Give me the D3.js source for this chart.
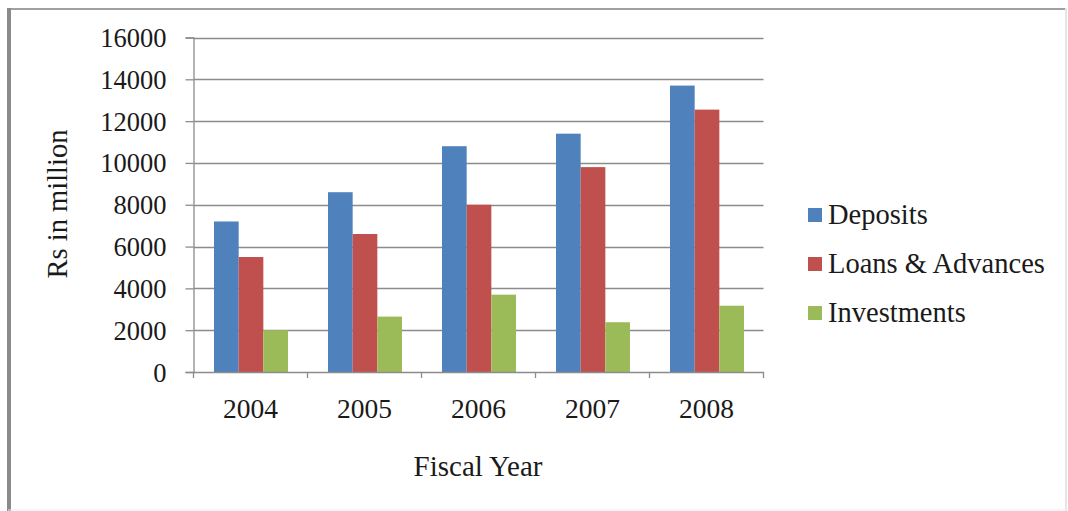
<!DOCTYPE html>
<html>
<head>
<meta charset="utf-8">
<script src="https://cdn.jsdelivr.net/npm/d3@7"></script>
<style>
  html, body { margin: 0; padding: 0; background: #fff; }
  svg { display: block; }
  text { font-family: "Liberation Serif", "Times New Roman", serif; fill: #1a1a1a; }
</style>
</head>
<body>
<svg id="chart" width="1068" height="511"></svg>
<script>
const years = ["2004", "2005", "2006", "2007", "2008"];
const seriesNames = ["Deposits", "Loans & Advances", "Investments"];
const deposits = [7200, 8600, 10800, 11400, 13700];
const loans = [5500, 6600, 8000, 9800, 12550];
const investments = [2000, 2650, 3700, 2380, 3170];
const yTicks = [0, 2000, 4000, 6000, 8000, 10000, 12000, 14000, 16000];
const colors = ["#4F81BD", "#C0504D", "#9BBB59"];

(function () {
const seriesValues = [deposits, loans, investments];
const svg = d3.select("#chart");

// frame
svg.append("rect").attr("x", 0).attr("y", 0).attr("width", 1068).attr("height", 511).attr("fill", "#fff");
svg.append("line").attr("x1", 8).attr("x2", 1066).attr("y1", 9).attr("y2", 9).attr("stroke", "#a0a0a0").attr("stroke-width", 2);
svg.append("line").attr("x1", 9).attr("x2", 9).attr("y1", 8).attr("y2", 511).attr("stroke", "#8a8a8a").attr("stroke-width", 4);
svg.append("line").attr("x1", 1066).attr("x2", 1066).attr("y1", 8).attr("y2", 511).attr("stroke", "#e6e6e6").attr("stroke-width", 2);
svg.append("line").attr("x1", 8).attr("x2", 1066).attr("y1", 510).attr("y2", 510).attr("stroke", "#ececec").attr("stroke-width", 1);

const pLeft = 193.5, pRight = 763.5, pTop = 37.5, pBottom = 372;
const x0 = d3.scaleBand().domain(years).range([pLeft, pRight]).padding(0);
const x1 = d3.scaleBand().domain(seriesNames).range([20.5, x0.bandwidth() - 19.5]).padding(0);
const y = d3.scaleLinear().domain([0, 16000]).range([pBottom, pTop]);

// gridlines
svg.append("g").selectAll("line").data(yTicks.filter(d => d > 0)).join("line")
  .attr("x1", pLeft).attr("x2", pRight)
  .attr("y1", d => Math.round(y(d)) + 0.5).attr("y2", d => Math.round(y(d)) + 0.5)
  .attr("stroke", "#8c8c8c").attr("stroke-width", 1.3);

// bars
const groups = svg.append("g").selectAll("g").data(years).join("g")
  .attr("transform", d => `translate(${x0(d)},0)`);
groups.selectAll("rect").data((d, i) => seriesNames.map((s, j) => ({ s, j, v: seriesValues[j][i] }))).join("rect")
  .attr("x", d => x1(d.s)).attr("width", x1.bandwidth())
  .attr("y", d => y(d.v)).attr("height", d => pBottom - y(d.v))
  .attr("fill", d => colors[d.j]);

// y axis
const yAxis = d3.axisLeft(y).tickValues(yTicks).tickFormat(d3.format("d")).tickSize(8).tickPadding(19);
const ya = svg.append("g").attr("transform", `translate(${pLeft},0)`).call(yAxis);
ya.select(".domain").attr("stroke", "#8c8c8c").attr("stroke-width", 1.3);
ya.selectAll(".tick line").attr("stroke", "#8c8c8c").attr("stroke-width", 1.3);
ya.selectAll("text").style("font-family", "'Liberation Serif', serif").style("font-size", "26.5px").attr("fill", "#1a1a1a").attr("dy", "0.34em");

// x axis
const xAxis = d3.axisBottom(x0).tickSize(0).tickPadding(26);
const xa = svg.append("g").attr("transform", `translate(0,${pBottom})`).call(xAxis);
xa.select(".domain").attr("stroke", "#8c8c8c").attr("stroke-width", 1.3);
xa.selectAll("text").style("font-family", "'Liberation Serif', serif").style("font-size", "27.5px").attr("fill", "#1a1a1a");
// category boundary ticks
const bounds = years.map(d => x0(d)).concat([pRight]);
svg.append("g").selectAll("line").data(bounds).join("line")
  .attr("x1", d => d).attr("x2", d => d).attr("y1", pBottom).attr("y2", pBottom + 6)
  .attr("stroke", "#8c8c8c").attr("stroke-width", 1.3);

// axis titles
svg.append("text").attr("transform", "translate(67,204) rotate(-90)")
  .attr("text-anchor", "middle").style("font-size", "28.5px").text("Rs in million");
svg.append("text").attr("x", 478).attr("y", 476)
  .attr("text-anchor", "middle").style("font-size", "29px").text("Fiscal Year");

// legend
const legend = svg.append("g").selectAll("g").data(seriesNames).join("g")
  .attr("transform", (d, i) => `translate(808,${215 + i * 49})`);
legend.append("rect").attr("x", 0).attr("y", -7).attr("width", 14).attr("height", 14)
  .attr("fill", (d, i) => colors[i]);
legend.append("text").attr("x", 20).attr("y", 0).attr("dy", "0.33em")
  .style("font-size", "28.5px").text(d => d);
})();
</script>
</body>
</html>
